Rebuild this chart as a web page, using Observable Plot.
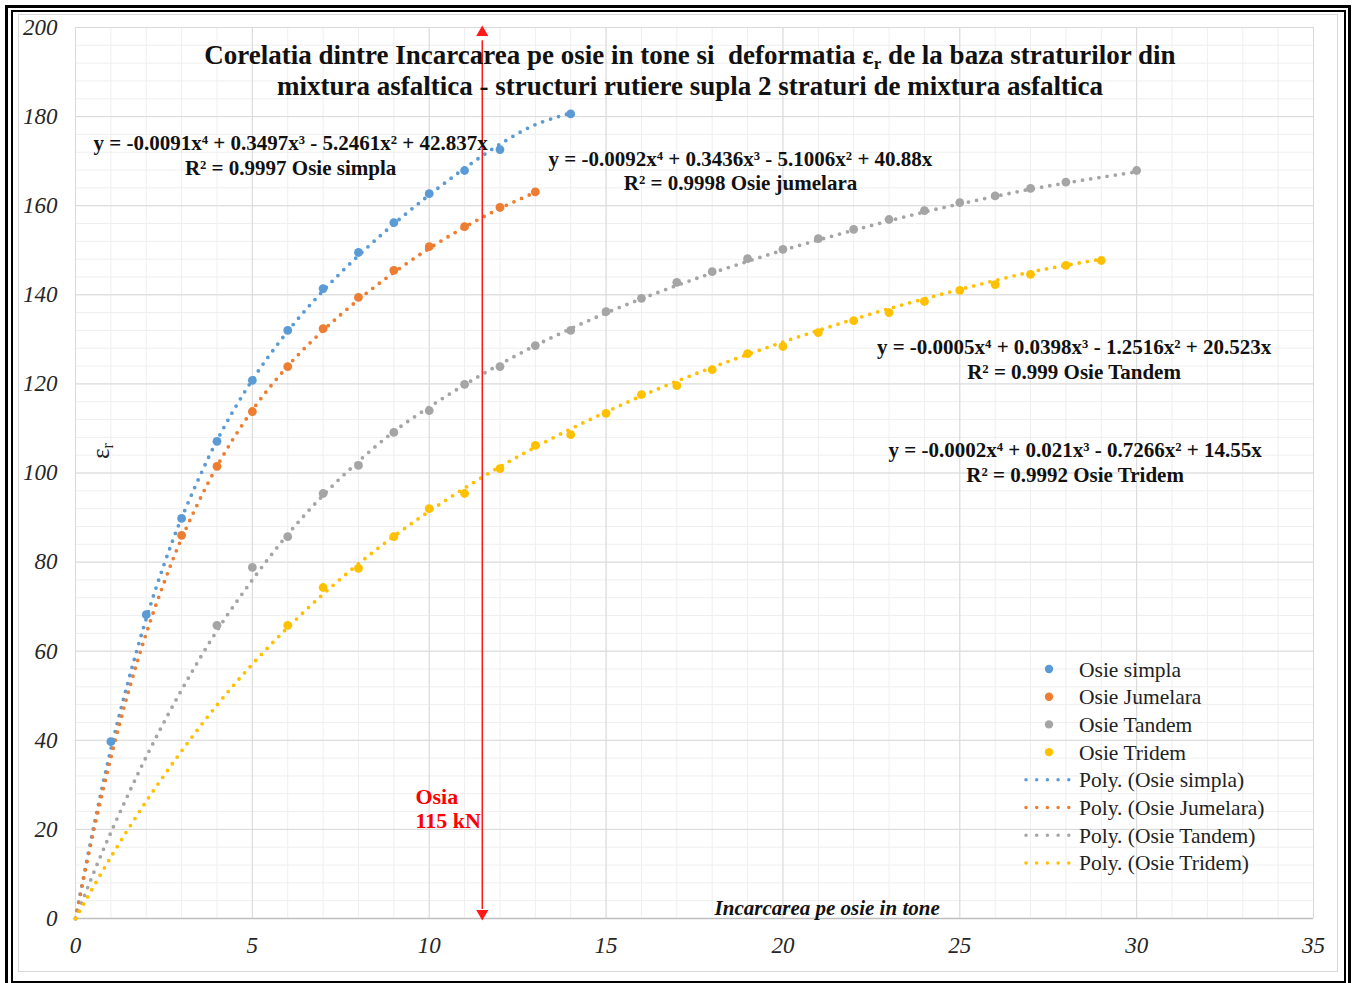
<!DOCTYPE html>
<html>
<head>
<meta charset="utf-8">
<script src="https://cdn.jsdelivr.net/npm/d3@7"></script>
<script src="https://cdn.jsdelivr.net/npm/@observablehq/plot@0.6"></script>
<style>
  html, body { margin: 0; padding: 0; background: #fff; }
  #wrap { position: relative; width: 1352px; height: 983px; overflow: hidden; background: #fff; font-family: "Liberation Serif", "Times New Roman", serif; }
  #chart { position: absolute; left: 0; top: 0; }
  .frame { position: absolute; box-sizing: border-box; pointer-events: none; }
  #title { position: absolute; left: 90px; width: 1200px; top: 40px; text-align: center; font-weight: bold; font-size: 27px; line-height: 31px; color: #111; white-space: nowrap; }
  #title sub { font-size: 17px; vertical-align: -5px; line-height: 0; }
  #ylabel { position: absolute; left: 84px; top: 437px; width: 34px; height: 28px; font-size: 25px; line-height: 28px; color: #222; transform: rotate(-90deg); transform-origin: center; text-align: center; }
  #ylabel sub { font-size: 16px; vertical-align: -4px; line-height: 0; }
  #legend { position: absolute; left: 1010px; top: 650px; }
</style>
</head>
<body>
<div id="wrap">
  <div id="chart"></div>
  <div class="frame" style="left:5px;top:5px;width:1346px;height:984px;border:3px solid #000;"></div>
  <div class="frame" style="left:11px;top:10px;width:1335px;height:973px;border:2px solid #000;"></div>
  <div class="frame" style="left:18px;top:14px;width:1320px;height:958px;border:1px solid #d9d9d9;"></div>
  <div id="title">Corelatia dintre Incarcarea pe osie in tone si&nbsp; deformatia&nbsp;ε<sub>r</sub> de la baza straturilor din<br>mixtura asfaltica - structuri rutiere supla 2 straturi de mixtura asfaltica</div>
  <div id="ylabel">ε<sub>r</sub></div>
  <div id="legend"></div>
</div>
<script>
// ---- data ----
const seriesNames = ["Osie simpla", "Osie Jumelara", "Osie Tandem", "Osie Tridem"];
const seriesColors = ["#5b9bd5", "#ed7d31", "#a5a5a5", "#ffc000"];

const simplaX = [1, 2, 3, 4, 5, 6, 7, 8, 9, 10, 11, 12, 14];
const simplaY = [39.7, 68.2, 89.8, 107.1, 120.8, 132.0, 141.4, 149.5, 156.2, 162.7, 167.9, 172.6, 180.6];

const jumelaraX = [3, 4, 5, 6, 7, 8, 9, 10, 11, 12, 13];
const jumelaraY = [86.0, 101.5, 113.8, 123.9, 132.4, 139.4, 145.5, 150.8, 155.3, 159.6, 163.1];

const tandemX = [4, 5, 6, 7, 8, 9, 10, 11, 12, 13, 14, 15, 16, 17, 18, 19, 20, 21, 22, 23, 24, 25, 26, 27, 28, 30];
const tandemY = [65.8, 78.8, 85.7, 95.4, 101.7, 109.1, 114.0, 119.9, 123.9, 128.6, 132.0, 136.2, 139.2, 142.8, 145.2, 148.1, 150.2, 152.6, 154.7, 156.9, 158.9, 160.7, 162.2, 163.9, 165.3, 167.9];

const tridemX = [6, 7, 8, 9, 10, 11, 12, 13, 14, 15, 16, 17, 18, 19, 20, 21, 22, 23, 24, 25, 26, 27, 28, 29];
const tridemY = [65.8, 74.3, 78.6, 85.7, 92.0, 95.4, 101.0, 106.2, 108.6, 113.4, 117.6, 119.6, 123.2, 126.8, 128.4, 131.5, 134.2, 136.0, 138.5, 141.0, 142.3, 144.6, 146.6, 147.7];

// dotted polynomial trend lines
const simplaTrendX = [0, 0.5, 1, 1.5, 2, 2.5, 3, 4, 5, 6, 7, 8, 9, 10, 11, 12, 13, 14];
const simplaTrendY = [0, 20, 38, 53.5, 67.3, 79.4, 89.9, 107.3, 120.9, 131.8, 140.9, 148.8, 155.9, 162.4, 168.4, 173.8, 178.2, 180.8];
const jumelaraTrendX = [0, 0.5, 1, 1.5, 2, 2.5, 3, 4, 5, 6, 7, 8, 9, 10, 11, 12, 13];
const jumelaraTrendY = [0, 19.2, 36.1, 51, 64, 75.3, 85.3, 101.5, 114.1, 124, 132, 138.9, 145, 150.4, 155.2, 159.4, 163];
const tandemTrendX = [0, 0.5, 1, 2, 3, 4, 5, 6, 7, 8, 9, 10, 11, 12, 13, 14, 15, 16, 17, 18, 19, 20, 21, 22, 23, 24, 25, 26, 27, 28, 29, 30];
const tandemTrendY = [0, 10, 19.3, 36.3, 51.3, 64.6, 76, 86.2, 95, 102.6, 109.3, 114.8, 119.8, 124.4, 128.6, 132.4, 135.9, 139.1, 142.1, 144.9, 147.5, 150, 152.3, 154.5, 156.6, 158.6, 160.4, 162.1, 163.7, 165.1, 166.4, 167.6];
const tridemTrendX = [0, 1, 2, 3, 4, 5, 6, 7, 8, 9, 10, 11, 12, 13, 14, 15, 16, 17, 18, 19, 20, 21, 22, 23, 24, 25, 26, 27, 28, 29];
const tridemTrendY = [0, 13.8, 26.3, 37.6, 47.9, 57.1, 65.3, 72.8, 79.6, 85.8, 91.4, 96.6, 101.4, 105.8, 109.9, 113.7, 117.3, 120.6, 123.7, 126.6, 129.4, 132, 134.5, 136.9, 139.1, 141.2, 143.2, 145.1, 146.6, 148];

const xTicks = [0, 5, 10, 15, 20, 25, 30, 35];
const yTicks = [0, 20, 40, 60, 80, 100, 120, 140, 160, 180, 200];

const equations = [
  "y = -0.0091x⁴ + 0.3497x³ - 5.2461x² + 42.837x\nR² = 0.9997 Osie simpla",
  "y = -0.0092x⁴ + 0.3436x³ - 5.1006x² + 40.88x\nR² = 0.9998 Osie jumelara",
  "y = -0.0005x⁴ + 0.0398x³ - 1.2516x² + 20.523x\nR² = 0.999 Osie Tandem",
  "y = -0.0002x⁴ + 0.021x³ - 0.7266x² + 14.55x\nR² = 0.9992 Osie Tridem"
];
const equationX = [6.08, 18.8, 28.23, 28.26];
const equationY = [171.4, 168.0, 125.7, 102.6];

const axleLoad = 11.5; // 115 kN
const axleLabel = "Osia\n115 kN";
const xAxisLabel = "Incarcarea pe osie in tone";

// ---- build tables ----
const pointSets = [[simplaX, simplaY], [jumelaraX, jumelaraY], [tandemX, tandemY], [tridemX, tridemY]];
const trendSets = [[simplaTrendX, simplaTrendY], [jumelaraTrendX, jumelaraTrendY], [tandemTrendX, tandemTrendY], [tridemTrendX, tridemTrendY]];
const points = pointSets.flatMap(([xs, ys], i) => xs.map((x, j) => ({series: seriesNames[i], x, y: ys[j]})));
const trends = trendSets.flatMap(([xs, ys], i) => xs.map((x, j) => ({series: seriesNames[i], x, y: ys[j]})));
const eqTable = equations.map((t, i) => ({text: t, x: equationX[i], y: equationY[i]}));

const colorScale = {domain: seriesNames, range: seriesColors};

const chart = Plot.plot({
  width: 1352,
  height: 983,
  marginLeft: 75,
  marginRight: 39,
  marginTop: 27,
  marginBottom: 65,
  style: {fontFamily: "Liberation Serif, Times New Roman, serif", background: "transparent"},
  x: {domain: [0, 35], ticks: xTicks, label: null},
  y: {domain: [0, 200], ticks: yTicks, label: null},
  color: colorScale,
  marks: [
    Plot.gridX(d3.range(0, 36, 1), {stroke: "#efefef", strokeOpacity: 1, strokeWidth: 1}),
    Plot.gridY(d3.range(0, 201, 4), {stroke: "#efefef", strokeOpacity: 1, strokeWidth: 1}),
    Plot.gridX(xTicks, {stroke: "#d9d9d9", strokeOpacity: 1, strokeWidth: 1}),
    Plot.gridY(yTicks, {stroke: "#d9d9d9", strokeOpacity: 1, strokeWidth: 1}),
    Plot.ruleY([0], {stroke: "#bfbfbf", strokeWidth: 1.5}),
    Plot.axisX(xTicks, {tickSize: 0, tickPadding: 18, fontSize: 23, fontStyle: "italic", fill: "#262626", label: null}),
    Plot.axisY(yTicks, {tickSize: 0, tickPadding: 18, fontSize: 23, fontStyle: "italic", fill: "#262626", label: null}),
    Plot.line(trends, {x: "x", y: "y", z: "series", stroke: "series", curve: "catmull-rom",
      strokeWidth: 3.8, strokeDasharray: "0 8.3", strokeLinecap: "round"}),
    Plot.dot(points, {x: "x", y: "y", fill: "series", r: 4.4}),
    Plot.ruleX([axleLoad], {y1: 2, y2: 197, stroke: "#ff1a1a", strokeWidth: 1.5}),
    Plot.dot([axleLoad], {x: d => d, y: 200, symbol: "triangle", r: 4.5, fill: "#ff1a1a", dy: 5}),
    Plot.dot([axleLoad], {x: d => d, y: 0, symbol: "triangle", r: 4.5, fill: "#ff1a1a", rotate: 180, dy: -5}),
    Plot.text(eqTable, {x: "x", y: "y", text: "text", textAnchor: "middle", lineAnchor: "middle",
      lineHeight: 1.18, fontSize: 21, fontWeight: "bold", fill: "#111"}),
    Plot.text([axleLabel], {x: 9.61, y: 24.7, text: d => d, textAnchor: "start", lineAnchor: "middle",
      lineHeight: 1.1, fontSize: 22, fontWeight: "bold", fill: "#ff0000"}),
    Plot.text([xAxisLabel], {x: 21.25, y: 2.3, text: d => d, textAnchor: "middle", lineAnchor: "middle",
      fontSize: 21, fontWeight: "bold", fontStyle: "italic", fill: "#111"})
  ]
});
document.getElementById("chart").appendChild(chart);

// ---- legend ----
const legendItems = [
  ...seriesNames.map((n, i) => ({label: n, color: seriesColors[i], kind: "dot"})),
  ...seriesNames.map((n, i) => ({label: `Poly. (${n})`, color: seriesColors[i], kind: "line"}))
];
const rowH = 27.7;
const lg = d3.select("#legend").append("svg").attr("width", 320).attr("height", 240)
  .style("font-family", "Liberation Serif, Times New Roman, serif");
const rows = lg.selectAll("g").data(legendItems).join("g")
  .attr("transform", (d, i) => `translate(0, ${19 + i * rowH})`);
rows.filter(d => d.kind === "dot").append("circle").attr("cx", 39).attr("cy", 0).attr("r", 4.2).attr("fill", d => d.color);
rows.filter(d => d.kind === "line").append("line").attr("x1", 16).attr("x2", 60).attr("y1", 0).attr("y2", 0)
  .attr("stroke", d => d.color).attr("stroke-width", 3.5).attr("stroke-dasharray", "0 10.7").attr("stroke-linecap", "round");
rows.append("text").attr("x", 69).attr("y", 0).attr("dy", "0.35em").attr("font-size", 21.5).attr("fill", "#222").text(d => d.label);
</script>
</body>
</html>
